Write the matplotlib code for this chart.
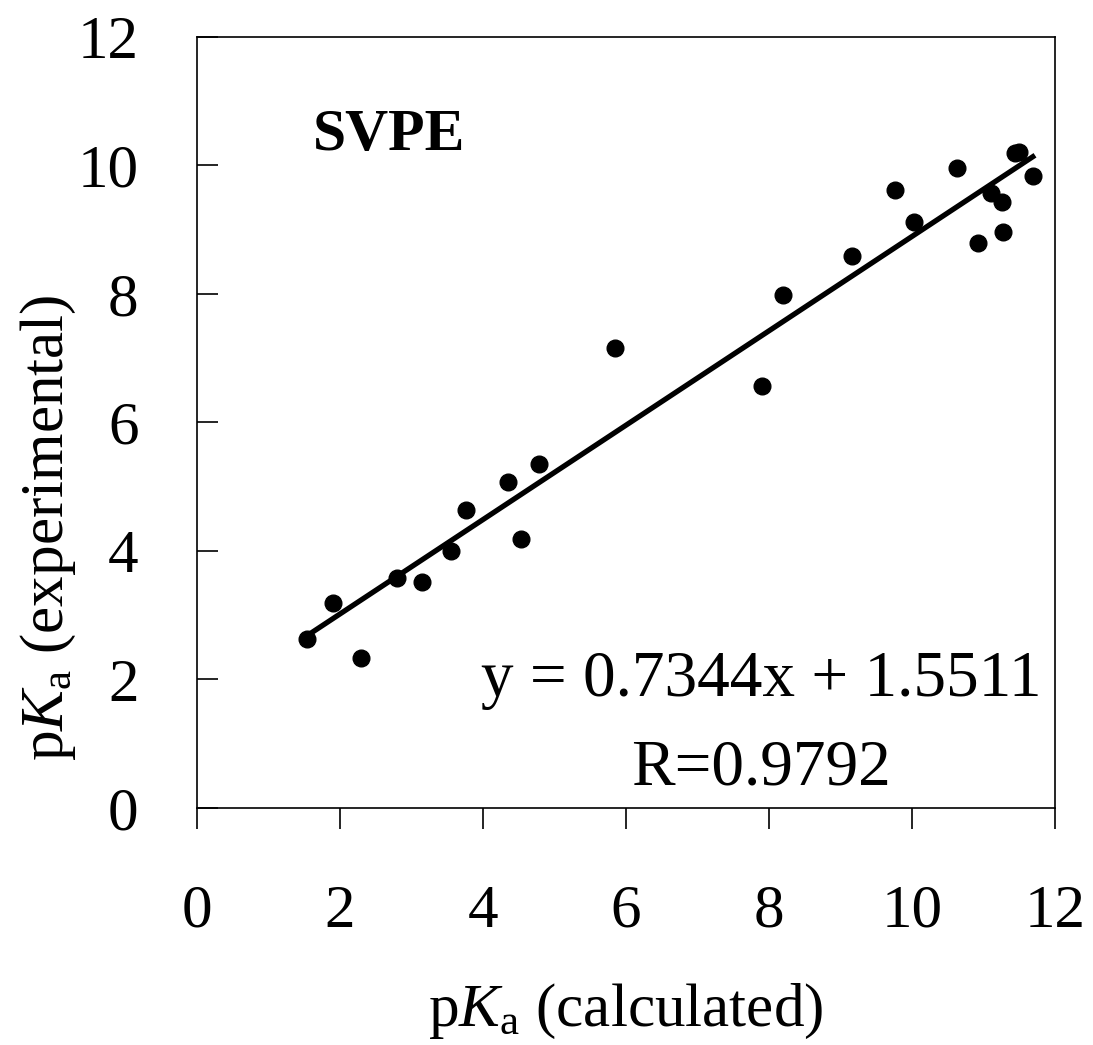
import numpy as np
import matplotlib
matplotlib.use("Agg")
import matplotlib.pyplot as plt

plt.rcParams['font.family'] = ['Liberation Serif', 'DejaVu Serif']
plt.rcParams['mathtext.fontset'] = 'custom'
plt.rcParams['mathtext.rm'] = 'Liberation Serif'
plt.rcParams['mathtext.it'] = 'Liberation Serif:italic'

# pKa values
pka_calc = [1.54, 1.90, 2.29, 2.80, 3.15, 3.55, 3.76, 4.35, 4.53, 4.78,
            5.85, 7.90, 8.20, 9.16, 9.76, 10.03, 10.63, 10.92, 11.10, 11.26,
            11.27, 11.44, 11.50, 11.69]
pka_exp = [2.63, 3.19, 2.33, 3.58, 3.52, 4.00, 4.64, 5.07, 4.19, 5.35,
           7.16, 6.57, 7.98, 8.59, 9.62, 9.12, 9.96, 8.79, 9.57, 9.43,
           8.96, 10.19, 10.21, 9.84]
slope = 0.7344
intercept = 1.5511
r_value = 0.9792
ticks = [0, 2, 4, 6, 8, 10, 12]

fig = plt.figure(figsize=(10.93, 10.45), dpi=100)
ax = fig.add_axes([0.1802, 0.2268, 0.7850, 0.7378])

ax.plot(pka_calc, pka_exp, 'o', color='black', markersize=12, zorder=3)
xf = np.array([min(pka_calc), max(pka_calc)])
ax.plot(xf, slope * xf + intercept, '-', color='black', lw=3.8, zorder=2)

ax.set_xlim(0, 12)
ax.set_ylim(0, 12)
ax.set_xticks(ticks)
ax.set_yticks(ticks)
for s in ax.spines.values():
    s.set_linewidth(1.2)
ax.tick_params(axis='x', direction='out', length=15, width=1.2, pad=40, labelsize=44)
ax.tick_params(axis='y', direction='in', length=15, width=1.2, pad=42, labelsize=44)

ax.set_xlabel(r'p$K$$_\mathrm{a}$ (calculated)', fontsize=44)
ax.set_ylabel(r'p$K$$_\mathrm{a}$ (experimental)', fontsize=44)
ax.xaxis.set_label_coords(0.5, -0.225)
ax.yaxis.set_label_coords(-0.139, 0.364)

ax.text(1.62, 10.24, 'SVPE', fontsize=43, fontweight='bold', ha='left', va='baseline')
ax.text(7.89, 1.74, 'y = %.4fx + %.4f' % (slope, intercept), fontsize=47,
        ha='center', va='baseline')
ax.text(7.89, 0.37, 'R=%.4f' % r_value, fontsize=47, ha='center', va='baseline')

fig.savefig('out.png', dpi=100)
